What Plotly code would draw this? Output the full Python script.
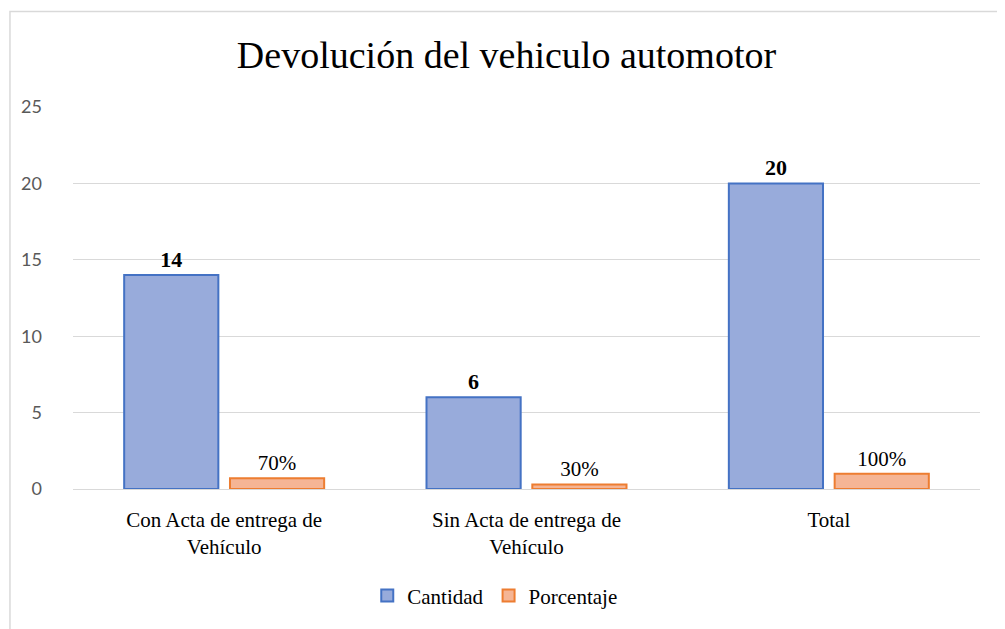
import plotly.graph_objects as go

categorias = ["Con Acta de entrega de<br>Vehículo",
              "Sin Acta de entrega de<br>Vehículo",
              "Total"]
cantidad = [14, 6, 20]
porcentaje = [0.70, 0.30, 1.00]
y_ticks = [0, 5, 10, 15, 20, 25]

serif = "Liberation Serif, Times New Roman, serif"
sans = "Lato, Liberation Sans, sans-serif"

fig = go.Figure()
fig.add_trace(go.Bar(
    x=categorias, y=cantidad, name="Cantidad",
    marker=dict(color="#98abdb", line=dict(color="#4472c4", width=2)),
    texttemplate="<b>%{y}</b>", textposition="outside",
    textfont=dict(family=serif, size=22, color="#000000"),
    cliponaxis=False,
))
fig.add_trace(go.Bar(
    x=categorias, y=porcentaje, name="Porcentaje",
    marker=dict(color="#f5b595", line=dict(color="#ed7d31", width=2)),
    texttemplate="%{y:.0%}", textposition="outside",
    textfont=dict(family=serif, size=21, color="#000000"),
    cliponaxis=False,
))

# the page body adds an 8px offset, so the figure is 8px smaller
fig.update_layout(
    width=997, height=621,
    margin=dict(l=65, r=25, t=99, b=138),
    paper_bgcolor="white", plot_bgcolor="white",
    title=dict(text="Devolución del vehiculo automotor", x=0.5, xanchor="center",
               y=0.925, yanchor="middle",
               font=dict(family=serif, size=38, color="#000000")),
    barmode="group", bargap=0.30, bargroupgap=0.11,
    showlegend=True,
    legend=dict(orientation="h", x=0.465, xanchor="center", y=-0.28, yanchor="middle",
                font=dict(family=serif, size=21, color="#000000"),
                itemwidth=30, traceorder="normal"),
    xaxis=dict(showline=False, ticks="", ticklabelstandoff=16,
               tickfont=dict(family=serif, size=21, color="#000000")),
    yaxis=dict(range=[0, 25], tickvals=y_ticks, showgrid=True, gridcolor="#d9d9d9",
               gridwidth=1, zeroline=True, zerolinecolor="#d9d9d9", zerolinewidth=1,
               showline=False, ticks="", ticklabelstandoff=30,
               tickfont=dict(family=sans, size=18, color="#595959")),
    shapes=[dict(type="rect", xref="paper", yref="paper",
                 x0=-0.0695, x1=1.1, y0=-0.45, y1=1.25,
                 line=dict(color="#d9d9d9", width=1.5), fillcolor="rgba(0,0,0,0)",
                 layer="below")],
)

fig.write_html("out.html")
